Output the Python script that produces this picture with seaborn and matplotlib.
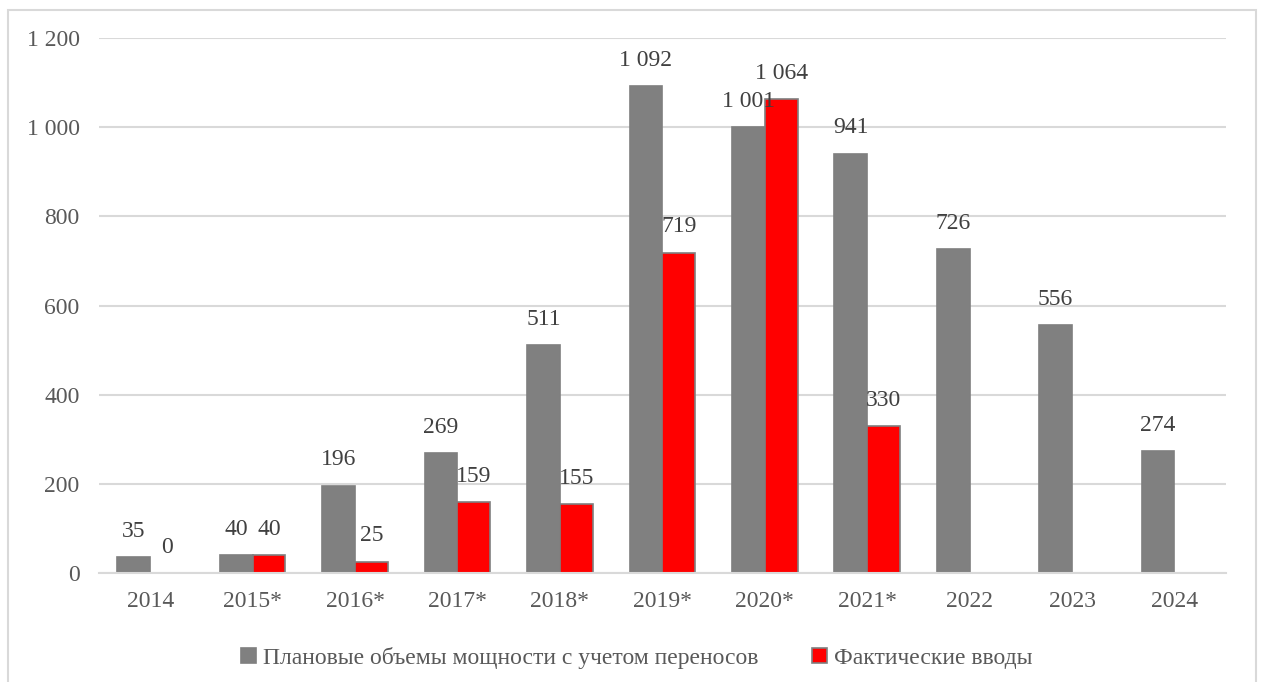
import numpy as np
import pandas as pd
import matplotlib
matplotlib.use("Agg")
import matplotlib.pyplot as plt
import matplotlib.patches as mpatches
import seaborn as sns

# --- data ---
years = ["2014", "2015*", "2016*", "2017*", "2018*", "2019*", "2020*", "2021*", "2022", "2023", "2024"]
planned = [35, 40, 196, 269, 511, 1092, 1001, 941, 726, 556, 274]
actual = [0, 40, 25, 159, 155, 719, 1064, 330, np.nan, np.nan, np.nan]
series_names = ["Плановые объемы мощности с учетом переносов", "Фактические вводы"]
yticks = [0, 200, 400, 600, 800, 1000, 1200]

df = pd.DataFrame({
    "year": years * 2,
    "value": planned + actual,
    "series": [series_names[0]] * len(years) + [series_names[1]] * len(years),
})
df = df.dropna(subset=["value"])

sns.set_theme(style="white")
plt.rcParams["font.family"] = ["Liberation Serif", "DejaVu Serif"]

fig = plt.figure(figsize=(12.61, 6.82), dpi=100)
ax = fig.add_axes([0.0785, 0.160, 0.8935, 0.784])

sns.barplot(data=df, x="year", y="value", hue="series", order=years,
            hue_order=series_names, palette=["#808080", "#ff0000"],
            width=0.64, gap=0, edgecolor="#7f7f7f", linewidth=1.2,
            saturation=1, ax=ax)

fmt = lambda v: f"{v:,.0f}".replace(",", " ")
for cont in ax.containers:
    ax.bar_label(cont, labels=[fmt(b.get_height()) for b in cont],
                 padding=11, fontsize=17, color="#404040")

ax.set_ylim(0, 1200)
ax.set_yticks(yticks)
ax.set_yticklabels([fmt(v) for v in yticks])
ax.set_xlim(-0.5, len(years) - 0.5)
ax.yaxis.grid(True, color="#d9d9d9", linewidth=1.5)
ax.set_axisbelow(True)
for s in ["top", "right", "left"]:
    ax.spines[s].set_visible(False)
ax.spines["bottom"].set_color("#d9d9d9")
ax.spines["bottom"].set_linewidth(1.5)
ax.set_xticks(np.arange(-0.5, len(years), 1), minor=True)
ax.tick_params(axis="x", which="minor", length=6, width=1.5, color="#d9d9d9")
ax.tick_params(axis="both", which="major", length=0, labelsize=17,
               labelcolor="#595959")
ax.tick_params(axis="x", pad=13)
ax.tick_params(axis="y", pad=14)
ax.set_xlabel("")
ax.set_ylabel("")

handles, labels = ax.get_legend_handles_labels()
ax.get_legend().remove()
fig.legend(handles, labels, loc="lower center", bbox_to_anchor=(0.505, -0.012),
           ncol=2, frameon=False, fontsize=17, labelcolor="#595959",
           handlelength=0.6, handleheight=0.6, handletextpad=0.3,
           columnspacing=2.3)

# light frame around the whole chart
fig.patches.append(mpatches.Rectangle((8 / 1261, -0.05), 1248 / 1261, 1.035,
                                      transform=fig.transFigure, fill=False,
                                      edgecolor="#d9d9d9", linewidth=1.5))

fig.savefig("out.png", dpi=100)
